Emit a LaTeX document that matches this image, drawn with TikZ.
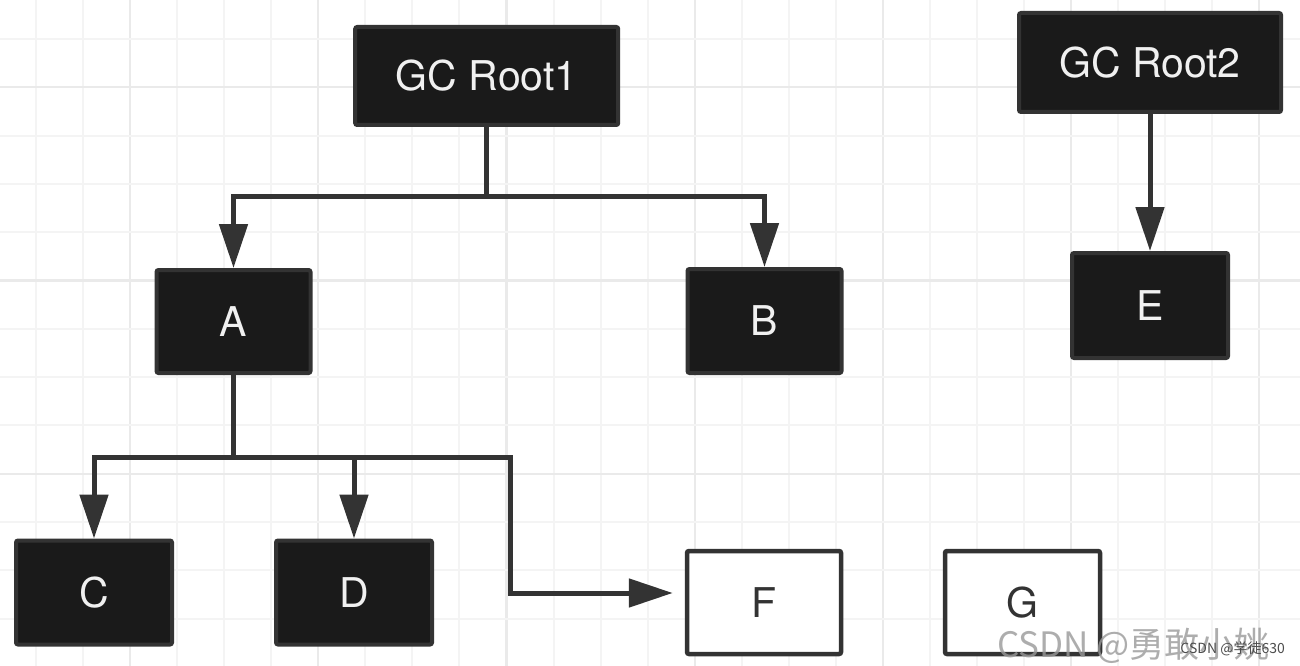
\documentclass[tikz,border=0pt]{standalone}
\usepackage{fontspec}
\setmainfont{TeX Gyre Heros}
\newfontfamily\cjkfont{Noto Sans CJK SC}
\usetikzlibrary{arrows.meta}
\definecolor{boxfill}{HTML}{1A1A1A}
\definecolor{boxline}{HTML}{333333}
\definecolor{gridminor}{HTML}{F4F4F4}
\definecolor{gridmajor}{HTML}{EAEAEA}
\begin{document}
\begin{tikzpicture}[x=1pt,y=-1pt,
  blackbox/.style={draw=boxline,fill=boxfill,line width=4pt,rounded corners=2pt,
    text=white!94!black,font=\fontsize{41}{48}\selectfont,inner sep=0pt},
  whitebox/.style={draw=boxline,fill=white,line width=4.5pt,rounded corners=2pt,
    text=boxline,font=\fontsize{41}{48}\selectfont,inner sep=0pt},
  conn/.style={draw=boxline,line width=5pt},
  arr/.style={conn,-{Triangle[length=44pt,width=28pt]}},
  gminor/.style={draw=gridminor,line width=2pt},
  gmajor/.style={draw=gridmajor,line width=2.2pt}]
\useasboundingbox (0,0) rectangle (1300,666);
\fill[white] (0,0) rectangle (1300,666);
% grid
\foreach \i in {0,...,26}{
  \pgfmathsetmacro\xx{36+47.05*\i}
  \pgfmathtruncatemacro\mm{mod(\i,4)}
  \ifnum\mm=2 \draw[gmajor] (\xx,0) -- (\xx,666); \else \draw[gminor] (\xx,0) -- (\xx,666); \fi
}
\foreach \j in {0,...,12}{
  \pgfmathsetmacro\yy{39+48.3*\j}
  \pgfmathtruncatemacro\mm{mod(\j,4)}
  \ifnum\mm=1 \draw[gmajor] (0,\yy) -- (1300,\yy); \else \draw[gminor] (0,\yy) -- (1300,\yy); \fi
}
% nodes
\node[blackbox,minimum width=263pt,minimum height=98pt] (r1) at (486.7,76) {GC Root1};
\node[blackbox,minimum width=262pt,minimum height=99pt] (r2) at (1150,62.5) {GC Root2};
\node[blackbox,minimum width=154pt,minimum height=103pt] (a) at (233.5,321.5) {A};
\node[blackbox,minimum width=154pt,minimum height=104pt] (b) at (764.5,321) {B};
\node[blackbox,minimum width=156pt,minimum height=105pt] (e) at (1150,305.5) {E};
\node[blackbox,minimum width=156pt,minimum height=104pt] (c) at (94,592.5) {C};
\node[blackbox,minimum width=156pt,minimum height=104pt] (d) at (354,592.5) {D};
\node[whitebox,minimum width=154pt,minimum height=103pt] (f) at (764,602.5) {F};
\node[whitebox,minimum width=155pt,minimum height=103pt] (g) at (1022.5,602.5) {G};
% connectors
\coordinate (j1) at (486.7,196);
\draw[conn] (r1.south) -- (j1);
\draw[arr] (j1) -| (a.north);
\draw[arr] (j1) -| (b.north);
\draw[arr] (r2.south) -- (e.north);
\coordinate (j2) at (233.5,457);
\coordinate (k1) at (510,457);
\coordinate (k2) at (510,593);
\draw[conn] (a.south) -- (j2);
\draw[arr] (j2) -| (c.north);
\draw[arr] (j2) -| (d.north);
\draw[arr,shorten >=12pt] (j2) -- (k1) -- (k2) -- (k2 -| f.west);
% watermark
\node[anchor=base west,inner sep=0pt,text=black!40,opacity=0.8,
  font=\cjkfont\fontsize{35}{40}\selectfont] (wm) at (997,657) {CSDN @勇敢小姚};
\node[anchor=base east,inner sep=0pt,text=black!70,
  font=\cjkfont\fontsize{14}{16}\selectfont] (wm2) at (1285,653) {CSDN @学徒630};
\end{tikzpicture}
\end{document}
